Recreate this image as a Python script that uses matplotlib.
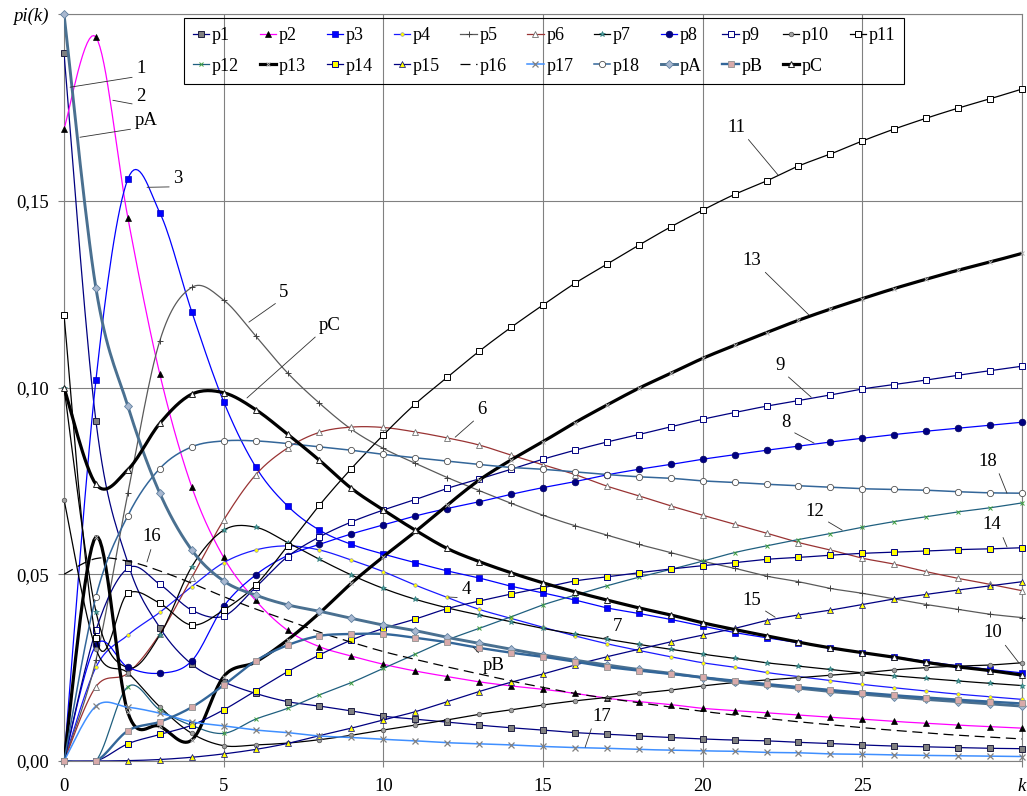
import numpy as np
import matplotlib
matplotlib.use('Agg')
import matplotlib.pyplot as plt
from matplotlib.lines import Line2D

plt.rcParams['font.family'] = ['Liberation Serif', 'DejaVu Serif']

k = list(range(31))

p1 = [0.1895, 0.091, 0.053, 0.0357, 0.0259, 0.0212, 0.0181, 0.0159, 0.0147, 0.0134, 0.012, 0.0112, 0.0104, 0.0096, 0.0089, 0.0083,
      0.0076, 0.0072, 0.0067, 0.0063, 0.0059, 0.0056, 0.0054, 0.005, 0.0047, 0.0043, 0.004, 0.0038, 0.0036, 0.0034, 0.0033]
p2 = [0.1693, 0.1938, 0.1454, 0.1036, 0.0734, 0.0545, 0.043, 0.035, 0.0306, 0.0281, 0.0259, 0.0241, 0.0226, 0.0212, 0.0201, 0.0192,
      0.0181, 0.0168, 0.0159, 0.0151, 0.0141, 0.0135, 0.0129, 0.0123, 0.0117, 0.0112, 0.0106, 0.0101, 0.0096, 0.0092, 0.0088]
p3 = [0, 0.102, 0.1558, 0.1468, 0.1203, 0.0962, 0.0788, 0.0683, 0.0618, 0.058, 0.0554, 0.0531, 0.0509, 0.049, 0.0468, 0.045,
      0.0431, 0.041, 0.0395, 0.0379, 0.0361, 0.0344, 0.033, 0.0317, 0.0302, 0.029, 0.0279, 0.0266, 0.0255, 0.0245, 0.0236]
p4 = [0, 0.0251, 0.0337, 0.0398, 0.0467, 0.0531, 0.0565, 0.0576, 0.0565, 0.0538, 0.0507, 0.0471, 0.0438, 0.0406, 0.0382, 0.0358,
      0.0335, 0.0314, 0.0296, 0.0279, 0.0263, 0.0251, 0.0237, 0.0226, 0.0215, 0.0205, 0.0196, 0.0187, 0.0179, 0.0172, 0.0165]
p5 = [0, 0.027, 0.0717, 0.1125, 0.1268, 0.1234, 0.1138, 0.1039, 0.0958, 0.0888, 0.0837, 0.0797, 0.0759, 0.0724, 0.069, 0.0658,
      0.063, 0.0605, 0.058, 0.0558, 0.0535, 0.0516, 0.0495, 0.048, 0.0462, 0.0449, 0.0434, 0.0419, 0.0406, 0.0393, 0.0384]
p6 = [0, 0.0199, 0.0235, 0.034, 0.0491, 0.0645, 0.0766, 0.0838, 0.088, 0.0894, 0.0893, 0.0881, 0.0865, 0.0846, 0.0819, 0.0793,
      0.0767, 0.0736, 0.071, 0.0683, 0.0658, 0.0634, 0.061, 0.0585, 0.0565, 0.0543, 0.0527, 0.0507, 0.0489, 0.0473, 0.0456]
p7 = [0.10, 0.040, 0.025, 0.0337, 0.052, 0.0618, 0.0626, 0.0585, 0.054, 0.0498, 0.0462, 0.0433, 0.041, 0.0391, 0.0373, 0.0355,
      0.034, 0.0326, 0.0312, 0.0299, 0.0286, 0.0275, 0.0263, 0.0254, 0.0245, 0.0236, 0.0228, 0.0221, 0.0214, 0.0208, 0.0202]
p8 = [0, 0.031, 0.0251, 0.0235, 0.0268, 0.0414, 0.0498, 0.055, 0.058, 0.0608, 0.0632, 0.0656, 0.0676, 0.0694, 0.0714, 0.0732,
      0.0748, 0.0766, 0.0781, 0.0794, 0.0808, 0.082, 0.0832, 0.0843, 0.0854, 0.0864, 0.0874, 0.0883, 0.0891, 0.0899, 0.0907]
p9 = [0, 0.035, 0.0516, 0.0473, 0.0404, 0.0388, 0.0465, 0.0547, 0.060, 0.064, 0.0672, 0.070, 0.073, 0.0755, 0.0781, 0.0808,
      0.0832, 0.0854, 0.0874, 0.0895, 0.0915, 0.0933, 0.095, 0.0965, 0.098, 0.0996, 0.1008, 0.102, 0.1033, 0.1045, 0.1057]
p10 = [0.070, 0.030, 0.0236, 0.0145, 0.0074, 0.0041, 0.0043, 0.0048, 0.0057, 0.0069, 0.0083, 0.0096, 0.011, 0.0125, 0.0137, 0.015,
       0.0161, 0.017, 0.0181, 0.019, 0.0201, 0.021, 0.0217, 0.0223, 0.023, 0.0236, 0.0244, 0.025, 0.0254, 0.0257, 0.0263]
p11 = [0.1194, 0.033, 0.0449, 0.0422, 0.0364, 0.0404, 0.0471, 0.0576, 0.0685, 0.0783, 0.0873, 0.0956, 0.1027, 0.1097, 0.1161, 0.1221,
       0.1279, 0.133, 0.1381, 0.143, 0.1475, 0.1517, 0.1553, 0.1593, 0.1625, 0.166, 0.1692, 0.1721, 0.1748, 0.1773, 0.1799]
p12 = [0, 0, 0.0199, 0.0137, 0.0095, 0.0074, 0.0112, 0.0141, 0.0177, 0.021, 0.0248, 0.0286, 0.0324, 0.0355, 0.0386, 0.0418,
       0.0444, 0.0469, 0.0492, 0.0513, 0.0535, 0.0558, 0.0576, 0.0593, 0.0609, 0.0626, 0.0641, 0.0654, 0.0667, 0.0678, 0.0691]
p13 = [0, 0.060, 0.013, 0.0093, 0.0056, 0.0226, 0.0265, 0.0324, 0.0396, 0.0476, 0.0547, 0.0614, 0.0685, 0.0752, 0.0806, 0.0855,
       0.0906, 0.0953, 0.0998, 0.1038, 0.1078, 0.1113, 0.1147, 0.118, 0.121, 0.1238, 0.1265, 0.129, 0.1314, 0.1336, 0.1359]
p14 = [0, 0, 0.0046, 0.0071, 0.0096, 0.0137, 0.0188, 0.0239, 0.0284, 0.0324, 0.0355, 0.038, 0.0408, 0.0428, 0.0447, 0.0464,
       0.0482, 0.0493, 0.0504, 0.0514, 0.0523, 0.0531, 0.054, 0.0545, 0.0551, 0.0556, 0.0559, 0.0562, 0.0566, 0.0568, 0.0571]
p15 = [0, 0, 0.0001, 0.0004, 0.001, 0.0019, 0.0031, 0.0047, 0.0068, 0.0088, 0.011, 0.0132, 0.0159, 0.0186, 0.0211, 0.0233,
       0.0257, 0.0279, 0.0299, 0.0319, 0.0337, 0.0355, 0.0376, 0.0391, 0.0404, 0.0419, 0.0434, 0.0446, 0.0458, 0.0469, 0.048]
p16 = [0.050, 0.0542, 0.0535, 0.0509, 0.0476, 0.044, 0.0407, 0.0377, 0.0345, 0.0318, 0.0293, 0.0272, 0.0252, 0.0233, 0.0214, 0.0197,
       0.0181, 0.0168, 0.0156, 0.0144, 0.0133, 0.0123, 0.0114, 0.0105, 0.0097, 0.0089, 0.0082, 0.0075, 0.0069, 0.0064, 0.0059]
p17 = [0, 0.0147, 0.0144, 0.0128, 0.0105, 0.0094, 0.0083, 0.0076, 0.0067, 0.0063, 0.0058, 0.0054, 0.0049, 0.0046, 0.0043, 0.0039,
       0.0036, 0.0034, 0.0031, 0.0029, 0.0027, 0.0026, 0.0023, 0.0022, 0.0019, 0.0018, 0.0016, 0.0015, 0.0014, 0.0013, 0.0012]
p18 = [0, 0.044, 0.0657, 0.0783, 0.0841, 0.0857, 0.0857, 0.085, 0.0841, 0.0832, 0.0821, 0.0812, 0.0803, 0.0794, 0.0786, 0.0781,
       0.0774, 0.0767, 0.0761, 0.0757, 0.075, 0.0746, 0.0741, 0.0737, 0.0733, 0.0729, 0.0727, 0.0725, 0.0721, 0.0718, 0.0717]
pA = [0.2, 0.1266, 0.095, 0.0717, 0.0565, 0.0482, 0.0444, 0.0418, 0.0401, 0.0382, 0.0364, 0.0349, 0.0331, 0.0315, 0.0299, 0.0284,
      0.027, 0.0257, 0.0245, 0.0235, 0.0223, 0.0212, 0.0203, 0.0195, 0.0186, 0.0179, 0.0172, 0.0165, 0.0159, 0.0153, 0.0147]
pB = [0, 0, 0.0081, 0.0105, 0.0144, 0.0203, 0.0268, 0.031, 0.0335, 0.034, 0.034, 0.033, 0.0318, 0.0303, 0.029, 0.0279,
      0.0266, 0.0252, 0.0242, 0.0233, 0.0224, 0.0215, 0.0206, 0.0198, 0.019, 0.0183, 0.0176, 0.017, 0.0164, 0.0159, 0.0154]
pC = [0.10, 0.0741, 0.078, 0.0904, 0.0982, 0.0986, 0.0941, 0.0875, 0.0805, 0.073, 0.0672, 0.0618, 0.0569, 0.0534, 0.0504, 0.0477,
      0.0453, 0.0431, 0.041, 0.0391, 0.037, 0.0352, 0.0335, 0.0318, 0.0303, 0.029, 0.0278, 0.0264, 0.0252, 0.0242, 0.023]

names = ['p1', 'p2', 'p3', 'p4', 'p5', 'p6', 'p7', 'p8', 'p9', 'p10', 'p11',
         'p12', 'p13', 'p14', 'p15', 'p16', 'p17', 'p18', 'pA', 'pB', 'pC']
series = [p1, p2, p3, p4, p5, p6, p7, p8, p9, p10, p11,
          p12, p13, p14, p15, p16, p17, p18, pA, pB, pC]

# line style and marker per series
line_st = {
    'p1': dict(color='#000080', lw=0.9), 'p2': dict(color='#FF00FF', lw=0.9),
    'p3': dict(color='#0000FF', lw=0.9), 'p4': dict(color='#1A1AFF', lw=0.9),
    'p5': dict(color='#5A5A5A', lw=0.9), 'p6': dict(color='#993333', lw=0.9),
    'p7': dict(color='black', lw=0.9), 'p8': dict(color='#0000FF', lw=0.9),
    'p9': dict(color='#000080', lw=0.9), 'p10': dict(color='black', lw=0.9),
    'p11': dict(color='black', lw=0.9), 'p12': dict(color='#1F5F7F', lw=0.9),
    'p13': dict(color='black', lw=2.3), 'p14': dict(color='#000080', lw=0.9),
    'p15': dict(color='#000080', lw=0.9), 'p16': dict(color='black', lw=0.9, ls=(0, (8, 4.5))),
    'p17': dict(color='#3F8FFF', lw=1.1), 'p18': dict(color='#336699', lw=1.1),
    'pA': dict(color='#4A7090', lw=2.1), 'pB': dict(color='#336699', lw=1.7),
    'pC': dict(color='black', lw=2.3),
}
mark_st = {
    'p1': dict(marker='s', ms=4.3, mfc='#808080', mec='#202040', mew=0.7),
    'p2': dict(marker='^', ms=4.3, mfc='black', mec='black', mew=0.5),
    'p3': dict(marker='s', ms=4.3, mfc='#0000FF', mec='#0000C0', mew=0.5),
    'p4': dict(marker='o', ms=2.6, mfc='#FFFF00', mec='#8080C0', mew=0.4),
    'p5': dict(marker='+', ms=5, mfc='none', mec='#404040', mew=0.7),
    'p6': dict(marker='^', ms=4.3, mfc='white', mec='#707070', mew=0.6),
    'p7': dict(marker='*', ms=4.2, mfc='#50A0A0', mec='#207070', mew=0.4),
    'p8': dict(marker='o', ms=4.8, mfc='#000080', mec='#000060', mew=0.5),
    'p9': dict(marker='s', ms=4.5, mfc='white', mec='#000080', mew=0.7),
    'p10': dict(marker='o', ms=3.3, mfc='#A0A0A0', mec='#505050', mew=0.5),
    'p11': dict(marker='s', ms=4.5, mfc='white', mec='black', mew=0.7),
    'p12': dict(marker='x', ms=3, mfc='none', mec='#40A040', mew=0.7),
    'p13': dict(marker='x', ms=3.3, mfc='none', mec='#B0B0B0', mew=0.7),
    'p14': dict(marker='s', ms=4.3, mfc='#FFFF00', mec='#000080', mew=0.7),
    'p15': dict(marker='^', ms=3.8, mfc='#FFFF00', mec='#000080', mew=0.5),
    'p16': dict(marker=None),
    'p17': dict(marker='x', ms=4, mfc='none', mec='#808080', mew=0.9),
    'p18': dict(marker='o', ms=4.5, mfc='white', mec='#505050', mew=0.6),
    'pA': dict(marker='D', ms=4, mfc='#A8B8D0', mec='#6080A0', mew=0.6),
    'pB': dict(marker='s', ms=4.3, mfc='#D8AAAA', mec='#909090', mew=0.6),
    'pC': dict(marker='^', ms=4.8, mfc='white', mec='#202020', mew=0.7),
}

# number labels with leader lines: (text, text position, point on curve)
notes = [
    ('1', (2.41, 0.1855), (0.19, 0.1804)), ('2', (2.41, 0.178), (1.53, 0.1769)),
    ('pA', (2.57, 0.1716), (0.50, 0.167)), ('3', (3.57, 0.156), (2.60, 0.1536)),
    ('5', (6.89, 0.1255), (5.79, 0.1175)), ('pC', (8.33, 0.1167), (5.73, 0.0972)),
    ('16', (2.76, 0.060), (2.60, 0.0533)), ('6', (13.09, 0.0942), (12.25, 0.0867)),
    ('4', (12.59, 0.046), (12.03, 0.0439)), ('pB', (13.44, 0.0257), (12.81, 0.0305)),
    ('7', (17.32, 0.0361), (16.85, 0.0327)), ('17', (16.85, 0.012), (16.32, 0.0037)),
    ('11', (21.05, 0.1697), (22.36, 0.1569)), ('13', (21.55, 0.1341), (23.33, 0.1194)),
    ('9', (22.42, 0.106), (23.40, 0.0974)), ('8', (22.61, 0.0907), (23.49, 0.0851)),
    ('18', (28.94, 0.0803), (29.53, 0.0717)), ('12', (23.52, 0.0669), (24.37, 0.0618)),
    ('14', (29.06, 0.0632), (29.53, 0.0573)), ('15', (21.55, 0.0431), (22.27, 0.0385)),
    ('10', (29.09, 0.0343), (29.91, 0.0262)),
]


def smooth(x, y, n=16):
    # Catmull-Rom curve through the points, like a spreadsheet "smoothed line"
    x = np.asarray(x, float)
    y = np.asarray(y, float)
    xp = np.concatenate([[x[0]], x, [x[-1]]])
    yp = np.concatenate([[y[0]], y, [y[-1]]])
    t = np.linspace(0, 1, n, endpoint=False)
    xs, ys = [], []
    for i in range(1, len(x)):
        for arr, out in ((xp, xs), (yp, ys)):
            a, b, c, d = arr[i - 1], arr[i], arr[i + 1], arr[i + 2]
            out.append(0.5 * (2 * b + (c - a) * t + (2 * a - 5 * b + 4 * c - d) * t ** 2
                              + (-a + 3 * b - 3 * c + d) * t ** 3))
    xs.append([x[-1]])
    ys.append([y[-1]])
    return np.concatenate(xs), np.concatenate(ys)


fig = plt.figure(figsize=(10.27, 7.96), dpi=100)
ax = fig.add_axes([64 / 1027, 35 / 796, 958 / 1027, 747 / 796])

for i, (nm, vals) in enumerate(zip(names, series)):
    xs, ys = smooth(k, vals)
    ax.plot(xs, ys, solid_capstyle='round', zorder=3 + i * 0.1, **line_st[nm])
    if mark_st[nm]['marker']:
        ax.plot(k, vals, ls='none', clip_on=False, zorder=3.05 + i * 0.1, **mark_st[nm])

ax.set_xlim(0, 30)
ax.set_ylim(0, 0.2)
ax.set_xticks(range(0, 31, 5))
xl = ax.set_xticklabels(['0', '5', '10', '15', '20', '25', 'k'])
ax.set_yticks([0, 0.05, 0.10, 0.15, 0.20])
yl = ax.set_yticklabels(['0,00', '0,05', '0,10', '0,15', 'pi(k)'])
xl[-1].set_fontstyle('italic')
yl[-1].set_fontstyle('italic')
ax.tick_params(labelsize=13.5, length=4, color='#808080', width=0.8)
ax.tick_params(axis='x', pad=8)
ax.tick_params(axis='y', pad=7)
ax.grid(True, color='#808080', lw=0.8)
ax.set_axisbelow(True)
for sp in ax.spines.values():
    sp.set_color('#808080')
    sp.set_linewidth(0.8)

for txt, tpos, cpos in notes:
    dx = cpos[0] - tpos[0]
    dy = cpos[1] - tpos[1]
    rx = 0.5 if abs(dx) < 0.3 else (1.0 if dx > 0 else 0.0)
    ry = 0.0 if dy < 0 else 1.0
    ax.annotate(txt, xy=cpos, xytext=tpos, ha='center', va='center', fontsize=13.5, zorder=10,
                arrowprops=dict(arrowstyle='-', lw=0.6, color='#303030', shrinkA=1, shrinkB=0,
                                relpos=(rx, ry)))

# legend: columns hold (row1, row2) pairs
handles = []
for nm in names:
    st = dict(line_st[nm])
    mk = dict(mark_st[nm])
    if mk['marker'] is None:
        mk = {}
    handles.append(Line2D([], [], **st, **mk))
order = []
for c in range(11):
    order.append(c)
    if c + 11 < len(names):
        order.append(c + 11)
leg = ax.legend([handles[i] for i in order], [names[i] for i in order], ncol=11,
                loc='upper left', bbox_to_anchor=(184 / 1027, 1 - 18 / 796),
                bbox_transform=fig.transFigure, fontsize=13, frameon=True, fancybox=False,
                edgecolor='black', facecolor='none', framealpha=1, handlelength=0.9,
                handletextpad=0.15, columnspacing=1.15, labelspacing=0.75, borderpad=0.5,
                borderaxespad=0)
leg.get_frame().set_linewidth(0.8)
leg.set_zorder(20)

fig.savefig('out.png', dpi=100)
